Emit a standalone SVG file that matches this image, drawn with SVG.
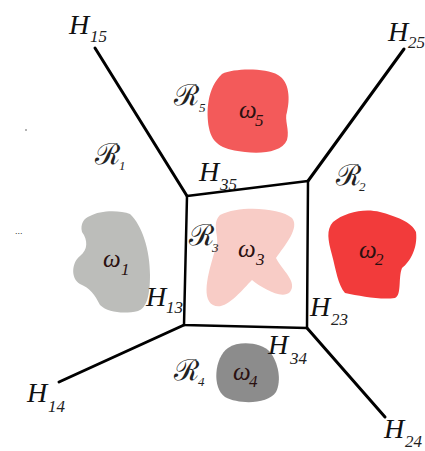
<svg xmlns="http://www.w3.org/2000/svg" width="425" height="451" viewBox="0 0 425 451">
<style>
.ln{stroke:#000;stroke-width:3;fill:none;stroke-linecap:round;stroke-linejoin:round}
.bx{stroke:#000;stroke-width:2.5;fill:none;stroke-linejoin:round}
.h{font-family:"Liberation Serif","DejaVu Serif",serif;font-style:italic;font-size:28px;fill:#111}
.s{font-family:"Liberation Serif","DejaVu Serif",serif;font-style:italic;font-size:17px;fill:#222}
.r{font-family:"DejaVu Serif","Noto Sans",serif;font-size:29px;fill:#222}
.rs{font-family:"Liberation Serif",serif;font-style:italic;font-size:13px;fill:#222}
.w{font-family:"Liberation Serif","DejaVu Serif",serif;font-style:italic;font-size:25px;fill:#2a1010}
.ws{font-family:"Liberation Serif",serif;font-style:italic;font-size:17px;fill:#2a1010}
</style>
<rect width="425" height="451" fill="#fff"/>
<g id="blobs">
<g id="omega5"><path d="M222,74 C235,68 265,68 278,75 C290,82 290,100 287,112 C284,120 290,130 287,140 C282,152 262,154 245,152 C225,150 212,145 209,128 C206,112 207,88 222,74 Z" fill="#f35a5a"/><text class="w" x="239" y="118">ω</text><text class="ws" x="255" y="126">5</text></g>
<g id="omega2"><path d="M333,222 C345,212 365,208 380,212 C395,216 412,222 416,232 C418,248 410,262 402,268 C398,278 402,295 395,298 C380,300 360,296 345,293 C338,285 336,270 332,255 C328,240 326,230 333,222 Z" fill="#f23b3b"/><text class="w" x="359" y="258">ω</text><text class="ws" x="375" y="265">2</text></g>
<g id="omega3"><path d="M220,215 C240,205 280,208 292,218 C300,228 285,245 276,258 C282,270 298,282 290,292 C282,300 262,288 252,280 C242,290 225,312 213,305 C200,298 210,268 215,250 C222,240 210,225 220,215 Z" fill="#f8ccc6"/><text class="w" x="238" y="257">ω</text><text class="ws" x="256" y="265">3</text></g>
<g id="omega1"><path d="M90,216 C100,210 120,210 130,214 C142,225 150,250 150,275 C150,295 147,308 138,311 C125,314 108,313 100,305 C95,295 90,288 80,284 C70,278 72,262 80,256 C88,250 88,240 82,232 C80,224 84,218 90,216 Z" fill="#bcbdba"/><text class="w" x="103" y="267">ω</text><text class="ws" x="121" y="275">1</text></g>
<g id="omega4"><path d="M228,348 C240,340 262,343 270,352 C278,362 282,380 276,392 C268,404 240,405 225,397 C212,388 214,358 228,348 Z" fill="#8c8c8c"/><text class="w" x="233" y="380">ω</text><text class="ws" x="249" y="387">4</text></g>
</g>
<g id="connectors">
<path class="ln" d="M95,48 L187,196"/>
<path class="ln" d="M308,181 L404,49"/>
<path class="ln" d="M184,325 L59,382"/>
<path class="ln" d="M307,328 L385,417"/>
<path class="bx" d="M187,196 L308,181 L307,328 L184,325 Z"/>
</g>
<g id="hyperplane-labels">
<g id="H15"><text class="h" x="69" y="34">H</text><text class="s" x="90" y="42">15</text></g>
<g id="H25"><text class="h" x="388" y="41">H</text><text class="s" x="408" y="48">25</text></g>
<g id="H35"><text class="h" x="199" y="181">H</text><text class="s" x="220" y="190">35</text></g>
<g id="H13"><text class="h" x="146" y="306">H</text><text class="s" x="166" y="313">13</text></g>
<g id="H23"><text class="h" x="310" y="316">H</text><text class="s" x="331" y="325">23</text></g>
<g id="H34"><text class="h" x="268" y="354">H</text><text class="s" x="290" y="364">34</text></g>
<g id="H14"><text class="h" x="27" y="402">H</text><text class="s" x="48" y="412">14</text></g>
<g id="H24"><text class="h" x="384" y="438">H</text><text class="s" x="405" y="447">24</text></g>
</g>
<g id="region-labels">
<g id="R1"><text class="r" x="95" y="164">ℛ</text><text class="rs" x="119" y="170">1</text></g>
<g id="R5"><text class="r" x="174" y="105">ℛ</text><text class="rs" x="199" y="112">5</text></g>
<g id="R2"><text class="r" x="336" y="185">ℛ</text><text class="rs" x="359" y="191">2</text></g>
<g id="R3"><text class="r" x="189" y="245">ℛ</text><text class="rs" x="212" y="252">3</text></g>
<g id="R4"><text class="r" x="174" y="380">ℛ</text><text class="rs" x="198" y="386">4</text></g>
</g>
<circle cx="26" cy="130" r="0.8" fill="#555"/>
<text x="15" y="234" font-family="Liberation Sans, sans-serif" font-size="9" fill="#333">...</text>
</svg>
